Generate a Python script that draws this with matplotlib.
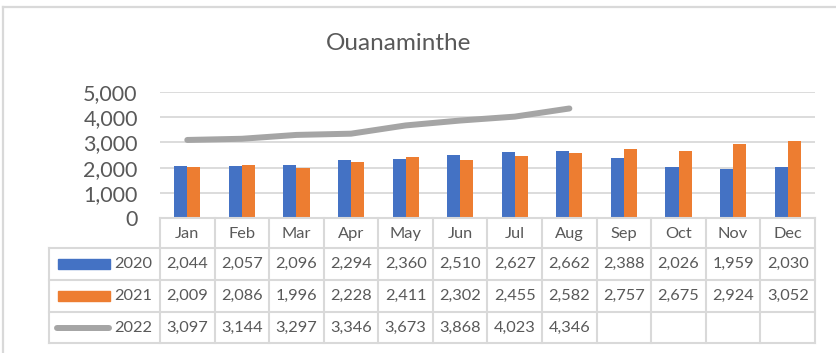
import numpy as np
import matplotlib
matplotlib.use("Agg")
import matplotlib.pyplot as plt
from matplotlib.lines import Line2D
from matplotlib.patches import Rectangle
from matplotlib.ticker import FuncFormatter

months = ["Jan", "Feb", "Mar", "Apr", "May", "Jun",
          "Jul", "Aug", "Sep", "Oct", "Nov", "Dec"]
v2020 = [2044, 2057, 2096, 2294, 2360, 2510, 2627, 2662, 2388, 2026, 1959, 2030]
v2021 = [2009, 2086, 1996, 2228, 2411, 2302, 2455, 2582, 2757, 2675, 2924, 3052]
v2022 = [3097, 3144, 3297, 3346, 3673, 3868, 4023, 4346]
series_names = ["2020", "2021", "2022"]

BLUE = "#4472C4"
ORANGE = "#ED7D31"
GRAY = "#A5A5A5"
TEXT = "#595959"
LINE = "#D9D9D9"

plt.rcParams["font.family"] = ["Lato", "DejaVu Sans"]

W, H = 837, 353
fig = plt.figure(figsize=(W / 100, H / 100), dpi=100)


def fx(x):
    return x / W


def fy(y):
    return 1 - y / H


# pixel layout of the plot area and the data table under it
left, right = 160, 815
top, base = 92, 218
row_edges = [218, 248, 280, 312, 343]
key_left = 49
col_w = (right - left) / len(months)

ax = fig.add_axes([fx(left), fy(base), fx(right) - fx(left), fy(top) - fy(base)])
x = np.arange(len(months))
w = 0.24
ax.bar(x - w / 2, v2020, w, color=BLUE, zorder=3)
ax.bar(x + w / 2, v2021, w, color=ORANGE, zorder=3)
ax.plot(x[:len(v2022)], v2022, color=GRAY, lw=4.3, solid_capstyle="round",
        solid_joinstyle="round", zorder=4)

ax.set_xlim(-0.5, len(months) - 0.5)
ax.set_ylim(0, 5000)
ax.set_yticks(range(0, 5001, 1000))
ax.yaxis.set_major_formatter(FuncFormatter(lambda v, p: f"{int(v):,}"))
ax.set_xticks([])
ax.tick_params(axis="y", length=0, pad=16, labelsize=15.5, labelcolor=TEXT)
ax.grid(axis="y", color=LINE, lw=1.3, zorder=0)
for s in ax.spines.values():
    s.set_visible(False)

fig.text(fx(399), fy(44), "Ouanaminthe", ha="center", va="center",
         fontsize=17.5, color=TEXT)

# chart frame (only top and left edges fall inside the image)
fig.add_artist(Line2D([fx(3), fx(837)], [fy(7), fy(7)], color=LINE, lw=1.6))
fig.add_artist(Line2D([fx(3), fx(3)], [fy(7), fy(353)], color=LINE, lw=1.6))

# data table grid
fig.add_artist(Line2D([fx(left), fx(right)], [fy(row_edges[0])] * 2, color=LINE, lw=1.5))
for ry in row_edges[1:]:
    fig.add_artist(Line2D([fx(key_left), fx(right)], [fy(ry)] * 2, color=LINE, lw=1.5))
fig.add_artist(Line2D([fx(key_left)] * 2, [fy(row_edges[1]), fy(row_edges[-1])],
                      color=LINE, lw=1.5))
for i in range(len(months) + 1):
    cx = left + i * col_w
    fig.add_artist(Line2D([fx(cx)] * 2, [fy(row_edges[0]), fy(row_edges[-1])],
                          color=LINE, lw=1.5))

for i, m in enumerate(months):
    cx = left + (i + 0.5) * col_w
    fig.text(fx(cx), fy(234), m, ha="center", va="center", fontsize=11.8, color=TEXT)

rows = [v2020, v2021, v2022]
for r, vals in enumerate(rows):
    cy = (row_edges[r + 1] + row_edges[r + 2]) / 2
    for i, v in enumerate(vals):
        cx = left + (i + 0.5) * col_w
        fig.text(fx(cx), fy(cy), f"{v:,}", ha="center", va="center",
                 fontsize=11.8, color=TEXT)
    fig.text(fx(152), fy(cy), series_names[r], ha="right", va="center",
             fontsize=11.8, color=TEXT)

# legend keys inside the table
for r, c in enumerate([BLUE, ORANGE]):
    cy = (row_edges[r + 1] + row_edges[r + 2]) / 2
    fig.add_artist(Rectangle((fx(58), fy(cy + 5)), fx(110) - fx(58), 10 / H,
                             color=c, transform=fig.transFigure))
cy = (row_edges[3] + row_edges[4]) / 2
fig.add_artist(Line2D([fx(57), fx(109)], [fy(cy)] * 2, color=GRAY, lw=4.3,
                      solid_capstyle="round"))

fig.savefig("out.png", dpi=100)
